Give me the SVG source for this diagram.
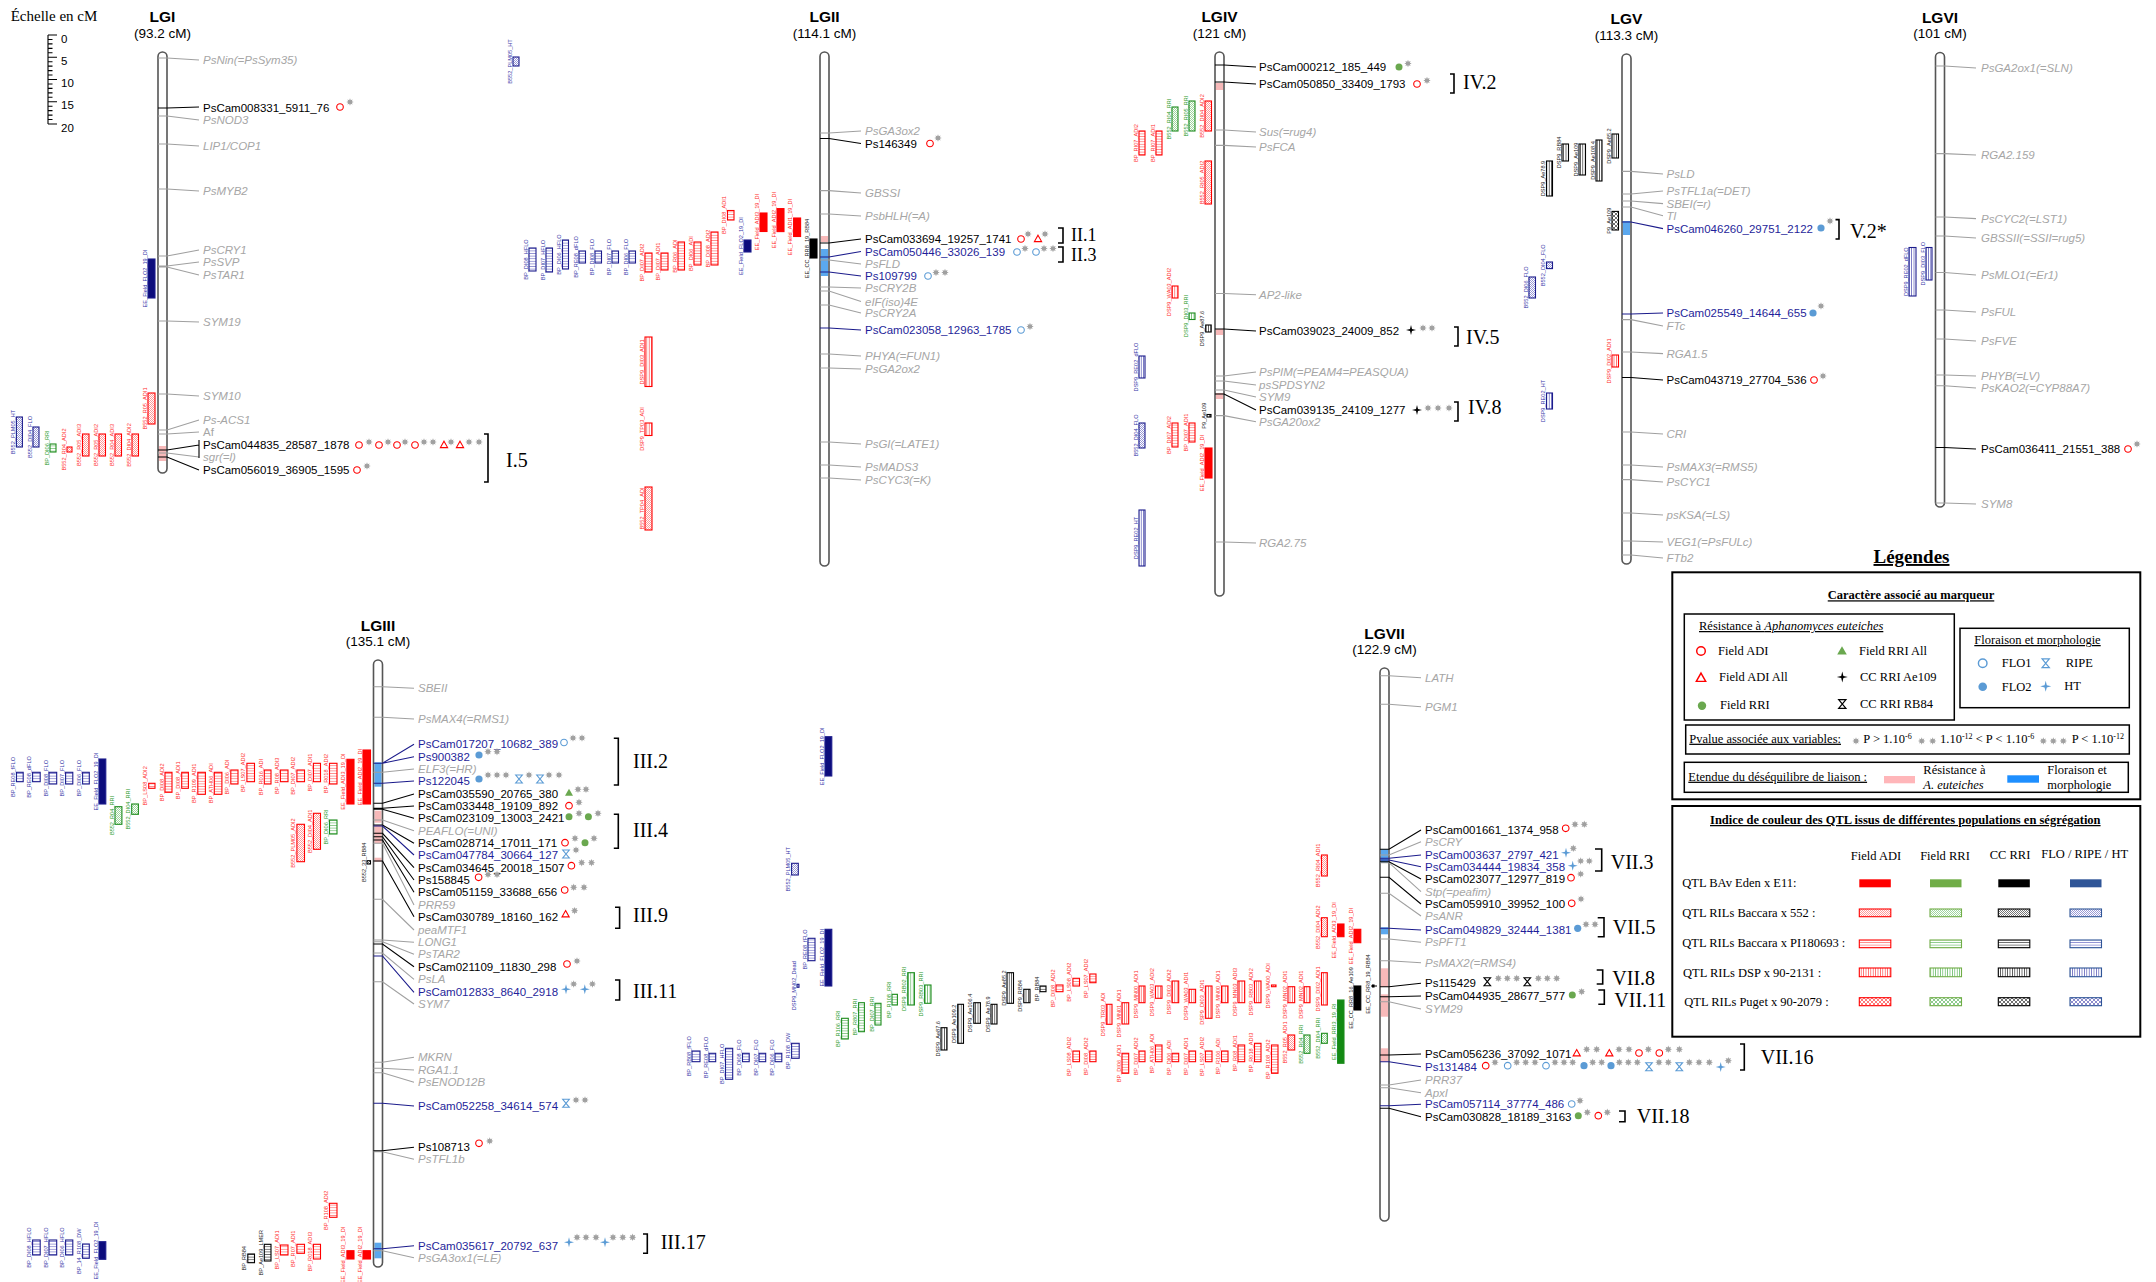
<svg xmlns="http://www.w3.org/2000/svg" width="2156" height="1282" viewBox="0 0 2156 1282">
<defs>
<style>
text{font-family:"Liberation Sans",Arial,sans-serif}
.t{font-size:11.5px}
.k{fill:#000}.b{fill:#1f1f9a}.g{fill:#a6a6a6;font-style:italic}.gn{fill:#a6a6a6}
.q{font-size:5.6px;text-anchor:middle}
.qr{fill:#ff2b2b}.qg{fill:#2a9a2a}.qk{fill:#222}.qb{fill:#3636a8}
.r{stroke:#f00;stroke-width:1.1}.gr{stroke:#1e8c1e;stroke-width:1.1}.kk{stroke:#000;stroke-width:1.1}.nb{stroke:#1c1c8c;stroke-width:1.1}
.Xr{fill:url(#pXr)}.Xg{fill:url(#pXg)}.Xk{fill:url(#pXk)}.Xb{fill:url(#pXb)}
.Hr{fill:url(#pHr)}.Hg{fill:url(#pHg)}.Hk{fill:url(#pHk)}.Hb{fill:url(#pHb)}
.Vr{fill:url(#pVr)}.Vg{fill:url(#pVg)}.Vk{fill:url(#pVk)}.Vb{fill:url(#pVb)}
.Dr{fill:url(#pDr)}.Dg{fill:url(#pDg)}.Dk{fill:url(#pDk)}.Db{fill:url(#pDb)}
.Er{fill:#f00}.Eg{fill:#138a13}.Ek{fill:#000}.Eb{fill:#0c0c7c}
.chr{fill:#fff;stroke:none}
.cho{fill:none;stroke:#555;stroke-width:1.6}
.ml{fill:none;stroke-width:1.1}
.mk{stroke:#000}.mb{stroke:#1c1c8c}.mg{stroke:#a0a0a0}
.ti{font-size:15.5px;font-weight:bold;text-anchor:middle}
.su{font-size:13.5px;text-anchor:middle}
.brk{fill:none;stroke:#000;stroke-width:1.6}
.bl{font-family:"Liberation Serif","Times New Roman",serif;font-size:20px}
.lg{font-family:"Liberation Serif","Times New Roman",serif;font-size:12.5px}
.lb{font-weight:bold}
.u{text-decoration:underline}
.bx{fill:none;stroke:#000;stroke-width:1.5}
.pk{fill:#f7b9b9}.bu{fill:#5ba8ee}
</style>
<pattern id="pXr" width="2" height="2" patternUnits="userSpaceOnUse"><rect width="2" height="2" fill="#fff"/><path d="M0,0h1v1H0zM1,1h1v1H1z" fill="#ff9a9a"/></pattern>
<pattern id="pXg" width="2" height="2" patternUnits="userSpaceOnUse"><rect width="2" height="2" fill="#fff"/><path d="M0,0h1v1H0zM1,1h1v1H1z" fill="#9fd69f"/></pattern>
<pattern id="pXk" width="2" height="2" patternUnits="userSpaceOnUse"><rect width="2" height="2" fill="#fff"/><path d="M0,0h1v1H0zM1,1h1v1H1z" fill="#777"/></pattern>
<pattern id="pXb" width="2" height="2" patternUnits="userSpaceOnUse"><rect width="2" height="2" fill="#fff"/><path d="M0,0h1v1H0zM1,1h1v1H1z" fill="#9a9ad6"/></pattern>
<pattern id="pHr" width="4" height="2.6" patternUnits="userSpaceOnUse"><rect width="4" height="2.6" fill="#fff"/><path d="M0,1.3H4" stroke="#ff7a7a" stroke-width=".8"/></pattern>
<pattern id="pHg" width="4" height="2.6" patternUnits="userSpaceOnUse"><rect width="4" height="2.6" fill="#fff"/><path d="M0,1.3H4" stroke="#7cc47c" stroke-width=".8"/></pattern>
<pattern id="pHk" width="4" height="2.6" patternUnits="userSpaceOnUse"><rect width="4" height="2.6" fill="#fff"/><path d="M0,1.3H4" stroke="#555" stroke-width=".8"/></pattern>
<pattern id="pHb" width="4" height="2.6" patternUnits="userSpaceOnUse"><rect width="4" height="2.6" fill="#fff"/><path d="M0,1.3H4" stroke="#8080cc" stroke-width=".8"/></pattern>
<pattern id="pVr" width="2.4" height="4" patternUnits="userSpaceOnUse"><rect width="2.4" height="4" fill="#fff"/><path d="M1.2,0V4" stroke="#ff5050" stroke-width=".8"/></pattern>
<pattern id="pVg" width="2.4" height="4" patternUnits="userSpaceOnUse"><rect width="2.4" height="4" fill="#fff"/><path d="M1.2,0V4" stroke="#5fb65f" stroke-width=".8"/></pattern>
<pattern id="pVk" width="2.4" height="4" patternUnits="userSpaceOnUse"><rect width="2.4" height="4" fill="#fff"/><path d="M1.2,0V4" stroke="#333" stroke-width=".8"/></pattern>
<pattern id="pVb" width="2.4" height="4" patternUnits="userSpaceOnUse"><rect width="2.4" height="4" fill="#fff"/><path d="M1.2,0V4" stroke="#5a5ab8" stroke-width=".8"/></pattern>
<pattern id="pDr" width="4" height="4" patternUnits="userSpaceOnUse"><rect width="4" height="4" fill="#fff"/><path d="M0,2L2,0L4,2L2,4Z" fill="none" stroke="#ff4040" stroke-width=".7"/></pattern>
<pattern id="pDg" width="4" height="4" patternUnits="userSpaceOnUse"><rect width="4" height="4" fill="#fff"/><path d="M0,2L2,0L4,2L2,4Z" fill="none" stroke="#5fb65f" stroke-width=".7"/></pattern>
<pattern id="pDk" width="4" height="4" patternUnits="userSpaceOnUse"><rect width="4" height="4" fill="#fff"/><path d="M0,2L2,0L4,2L2,4Z" fill="none" stroke="#333" stroke-width=".7"/></pattern>
<pattern id="pDb" width="4" height="4" patternUnits="userSpaceOnUse"><rect width="4" height="4" fill="#fff"/><path d="M0,2L2,0L4,2L2,4Z" fill="none" stroke="#5a5ab8" stroke-width=".7"/></pattern>
<path id="st" d="M3.7,0L1.85,.77L2.62,2.62L.77,1.85L0,3.7L-.77,1.85L-2.62,2.62L-1.85,.77L-3.7,0L-1.85,-.77L-2.62,-2.62L-.77,-1.85L0,-3.7L.77,-1.85L2.62,-2.62L1.85,-.77Z" fill="#a0a0a0"/>
<circle id="oR" r="3.3" fill="none" stroke="#f00" stroke-width="1.1"/>
<path id="tR" d="M0,-3.8L3.6,2.6H-3.6Z" fill="none" stroke="#f00" stroke-width="1.1"/>
<circle id="gF" r="3.5" fill="#6aa84f"/>
<path id="gT" d="M0,-4L4,3H-4Z" fill="#6aa84f"/>
<circle id="oB" r="3.3" fill="none" stroke="#5b9bd5" stroke-width="1.1"/>
<circle id="bF" r="3.6" fill="#5b9bd5"/>
<path id="xB" d="M0,-5L1,-1L5,0L1,1L0,5L-1,1L-5,0L-1,-1Z" fill="#5b9bd5"/>
<path id="xK" d="M0,-5L1,-1L5,0L1,1L0,5L-1,1L-5,0L-1,-1Z" fill="#000"/>
<path id="hB" d="M-3.3,-4H3.3L-3.3,4H3.3Z" fill="none" stroke="#5b9bd5" stroke-width="1.1"/>
<path id="hK" d="M-3.3,-4H3.3L-3.3,4H3.3Z" fill="none" stroke="#000" stroke-width="1.1"/>
</defs>
<rect width="2156" height="1282" fill="#fff"/>

<g id="scale">
<text x="10.7" y="21" style="font-family:'Liberation Serif','Times New Roman',serif;font-size:15px">Échelle en cM</text>
<path d="M48,35V124M48,35H57M48,39.45H52.5M48,43.9H52.5M48,48.35H52.5M48,52.8H52.5M48,57.25H57M48,61.7H52.5M48,66.15H52.5M48,70.6H52.5M48,75.05H52.5M48,79.5H57M48,83.95H52.5M48,88.4H52.5M48,92.85H52.5M48,97.3H52.5M48,101.75H57M48,106.2H52.5M48,110.65H52.5M48,115.1H52.5M48,119.55H52.5M48,124H57" fill="none" stroke="#000" stroke-width="1.1"/>
<g style="font-size:11.5px"><text x="61" y="42.5">0</text><text x="61" y="64.7">5</text><text x="61" y="87">10</text><text x="61" y="109.2">15</text><text x="61" y="131.5">20</text></g>
</g>

<g id="LGI">
<text class="ti" x="162.5" y="21.5">LGI</text><text class="su" x="162.5" y="38">(93.2 cM)</text>
<rect class="chr" x="158" y="52" width="9" height="421" rx="4.5"/>
<rect class="pk" x="159" y="446" width="7" height="15"/>
<rect class="cho" x="158" y="52" width="9" height="421" rx="4.5"/>
</g>
<g id="LGII">
<text class="ti" x="824.5" y="21.5">LGII</text><text class="su" x="824.5" y="38">(114.1 cM)</text>
<rect class="chr" x="820" y="52" width="9" height="514" rx="4.5"/>
<rect class="pk" x="821" y="236" width="7" height="6"/><rect class="bu" x="821" y="249" width="7" height="27"/>
<rect class="cho" x="820" y="52" width="9" height="514" rx="4.5"/>
</g>
<g id="LGIII">
<text class="ti" x="378" y="631">LGIII</text><text class="su" x="378" y="646">(135.1 cM)</text>
<rect class="chr" x="373.5" y="660" width="9" height="607" rx="4.5"/>
<rect class="bu" x="374.5" y="762.3" width="7" height="24.4"/><rect class="pk" x="374.5" y="810.7" width="7" height="12"/><rect class="pk" x="374.5" y="825" width="7" height="18.3"/><rect class="pk" x="374.5" y="857.7" width="7" height="4"/><rect class="bu" x="374.5" y="1242.7" width="7" height="15.6"/>
<rect class="cho" x="373.5" y="660" width="9" height="607" rx="4.5"/>
</g>
<g id="LGIV">
<text class="ti" x="1219.5" y="21.5">LGIV</text><text class="su" x="1219.5" y="38">(121 cM)</text>
<rect class="chr" x="1215" y="52" width="9" height="544" rx="4.5"/>
<rect class="pk" x="1216" y="83" width="7" height="7"/><rect class="pk" x="1216" y="329" width="7" height="6"/><rect class="pk" x="1216" y="393" width="7" height="6"/>
<rect class="cho" x="1215" y="52" width="9" height="544" rx="4.5"/>
</g>
<g id="LGV">
<text class="ti" x="1626.5" y="23.5">LGV</text><text class="su" x="1626.5" y="40">(113.3 cM)</text>
<rect class="chr" x="1622" y="54" width="9" height="510" rx="4.5"/>
<rect class="bu" x="1623" y="221" width="7" height="14"/>
<rect class="cho" x="1622" y="54" width="9" height="510" rx="4.5"/>
</g>
<g id="LGVI">
<text class="ti" x="1940" y="22.5">LGVI</text><text class="su" x="1940" y="38">(101 cM)</text>
<rect class="chr" x="1935.5" y="52.5" width="9" height="454.5" rx="4.5"/>
<rect class="cho" x="1935.5" y="52.5" width="9" height="454.5" rx="4.5"/>
</g>
<g id="LGVII">
<text class="ti" x="1384.5" y="639">LGVII</text><text class="su" x="1384.5" y="654">(122.9 cM)</text>
<rect class="chr" x="1380" y="668" width="9" height="553" rx="4.5"/>
<rect class="bu" x="1381" y="849.3" width="7" height="13.4"/><rect class="bu" x="1381" y="927.3" width="7" height="7"/><rect class="pk" x="1381" y="968.3" width="7" height="18.4"/><rect class="pk" x="1381" y="994.3" width="7" height="22.4"/><rect class="pk" x="1381" y="1048.3" width="7" height="13.4"/>
<rect class="cho" x="1380" y="668" width="9" height="553" rx="4.5"/>
</g>

<g id="connectors">
<path class="ml mg" d="M158,58H167L199,60M158,116H167L199,120M158,144H167L199,146M158,189H167L199,191M158,256H167L199,250M158,266H167L199,262M158,267H167L199,275M158,321H167L199,322M158,394H167L199,396M158,430H167L199,420M158,434H167L199,432M158,453H167L199,457"/>
<path class="ml mk" d="M158,108H167L199,107M158,450H167L199,445M158,457H167L199,470M199,440V458"/>
<path class="ml mg" d="M820,133H829L861,131M820,190.6H829L861,193M820,214H829L861,216M820,260H829L861,264M820,287H829L861,288M820,291H829L861,301.5M820,305H829L861,313M820,354H829L861,356M820,368H829L861,369M820,442H829L861,444M820,465H829L861,467M820,478H829L861,480"/>
<path class="ml mk" d="M820,138.5H829L861,143.5M820,243H829L861,239"/>
<path class="ml mb" d="M820,257H829L861,251.5M820,272H829L861,276M820,328H829L861,330"/>
<path class="ml mg" d="M373.5,686.7H382.5L414,688.3M373.5,717.3H382.5L414,719M373.5,772.3H382.5L414,769M373.5,820H382.5L414,830.7M373.5,843.3H382.5L414,905M373.5,899.3H382.5L414,930M373.5,940H382.5L414,942.3M373.5,941.7H382.5L414,954.3M373.5,953H382.5L414,979.3M373.5,981.7H382.5L414,1004M373.5,1062.3H382.5L414,1057.3M373.5,1068.3H382.5L414,1070M373.5,1072.7H382.5L414,1082.3M373.5,1151.7H382.5L414,1159.3M373.5,1250.7H382.5L414,1257.7"/>
<path class="ml mk" d="M373.5,803.3H382.5L414,794M373.5,808.3H382.5L414,806M373.5,809.3H382.5L414,818.3M373.5,825H382.5L414,843.3M373.5,833.3H382.5L414,867.7M373.5,836.7H382.5L414,880M373.5,840H382.5L414,892.3M373.5,861H382.5L414,916.7M373.5,944H382.5L414,966.7M373.5,1150.7H382.5L414,1147.3"/>
<path class="ml mb" d="M373.5,763.3H382.5L414,744.3M373.5,763.3H382.5L414,756.7M373.5,783.3H382.5L414,781M373.5,826H382.5L414,855M373.5,956H382.5L414,992.3M373.5,1103.3H382.5L414,1106M373.5,1248.7H382.5L414,1245.7"/>
<path class="ml mk" d="M1215,65H1224L1256,67M1215,82H1224L1256,84M1215,329H1224L1256,331M1215,394H1224L1256,410"/>
<path class="ml mg" d="M1215,130H1224L1256,132M1215,145.4H1224L1256,147M1215,293.5H1224L1256,294.7M1215,376H1224L1256,372M1215,381H1224L1256,385M1215,390H1224L1256,397M1215,415.6H1224L1256,421.7M1215,542H1224L1256,543"/>
<path class="ml mg" d="M1622,171.4H1631L1663,174M1622,194H1631L1663,191M1622,201H1631L1663,203.6M1622,207H1631L1663,215.7M1622,319.6H1631L1663,326M1622,352H1631L1663,353.6M1622,432H1631L1663,434M1622,465H1631L1663,467M1622,479.6H1631L1663,482M1622,513H1631L1663,515M1622,541H1631L1663,542M1622,555H1631L1663,558"/>
<path class="ml mb" d="M1622,222H1631L1663,228.6M1622,314H1631L1663,313"/>
<path class="ml mk" d="M1622,377.5H1631L1663,380"/>
<path class="ml mg" d="M1935.5,66H1944.5L1976,68M1935.5,153.6H1944.5L1976,155M1935.5,217H1944.5L1976,218.6M1935.5,236H1944.5L1976,238M1935.5,272.5H1944.5L1976,275M1935.5,310H1944.5L1976,312M1935.5,339H1944.5L1976,341M1935.5,375H1944.5L1976,376M1935.5,385.7H1944.5L1976,388M1935.5,503H1944.5L1976,504"/>
<path class="ml mk" d="M1935.5,447.5H1944.5L1976,449"/>
<path class="ml mg" d="M1380,675.7H1389L1421,677.7M1380,704.3H1389L1421,706.7M1380,855H1389L1421,841.7M1380,862.7H1389L1421,891.7M1380,893.3H1389L1421,916M1380,939H1389L1421,942.3M1380,960.7H1389L1421,962.7M1380,1001.7H1389L1421,1009M1380,1085H1389L1421,1080M1380,1087.7H1389L1421,1092.7"/>
<path class="ml mk" d="M1380,849.3H1389L1421,830M1380,861.7H1389L1421,879M1380,877.3H1389L1421,904M1380,986.7H1389L1421,983.3M1380,996.7H1389L1421,996M1380,1055H1389L1421,1054M1380,1108.3H1389L1421,1116.7M1371,986H1377"/>
<path class="ml mb" d="M1380,858.3H1389L1421,855M1380,860H1389L1421,866.7M1380,928.3H1389L1421,930M1380,1061.7H1389L1421,1066.7M1380,1105.7H1389L1421,1104.3"/>
</g>

<g id="markers-LGI" class="t">
<text class="g" x="203" y="64">PsNin(=PsSym35)</text>
<text class="k" x="203" y="111.5">PsCam008331_5911_76</text>
<text class="g" x="203" y="124">PsNOD3</text>
<text class="g" x="203" y="150">LIP1/COP1</text>
<text class="g" x="203" y="195">PsMYB2</text>
<text class="g" x="203" y="254">PsCRY1</text>
<text class="g" x="203" y="266">PsSVP</text>
<text class="g" x="203" y="279">PsTAR1</text>
<text class="g" x="203" y="326">SYM19</text>
<text class="g" x="203" y="400">SYM10</text>
<text class="g" x="203" y="424">Ps-ACS1</text>
<text class="gn" x="203" y="436">Af</text>
<text class="k" x="203" y="449">PsCam044835_28587_1878</text>
<text class="g" x="203" y="461">sgr(=l)</text>
<text class="k" x="203" y="474">PsCam056019_36905_1595</text>
<use href="#oR" x="340" y="107"/><use href="#st" x="350" y="102"/>
<use href="#oR" x="359" y="445"/><use href="#st" x="369" y="442"/><use href="#oR" x="379" y="445"/><use href="#st" x="388" y="442"/><use href="#oR" x="397" y="445"/><use href="#st" x="405" y="442"/><use href="#oR" x="415" y="445"/><use href="#st" x="424" y="442"/><use href="#st" x="433" y="442"/><use href="#tR" x="444" y="445"/><use href="#st" x="451" y="442"/><use href="#tR" x="460" y="445"/><use href="#st" x="469" y="442"/><use href="#st" x="479" y="442"/>
<use href="#oR" x="357" y="470"/><use href="#st" x="367" y="466"/>
<path class="brk" d="M484,434H488V482H484"/><text class="bl" x="506" y="466.6">I.5</text>
</g>

<g id="markers-LGII" class="t">
<text class="g" x="865" y="135">PsGA3ox2</text>
<text class="k" x="865" y="147.5">Ps146349</text>
<text class="g" x="865" y="197">GBSSI</text>
<text class="g" x="865" y="220">PsbHLH(=A)</text>
<text class="k" x="865" y="243">PsCam033694_19257_1741</text>
<text class="b" x="865" y="255.5">PsCam050446_33026_139</text>
<text class="g" x="865" y="268">PsFLD</text>
<text class="b" x="865" y="280">Ps109799</text>
<text class="g" x="865" y="292">PsCRY2B</text>
<text class="g" x="865" y="305.5">eIF(iso)4E</text>
<text class="g" x="865" y="317">PsCRY2A</text>
<text class="b" x="865" y="334">PsCam023058_12963_1785</text>
<text class="g" x="865" y="360">PHYA(=FUN1)</text>
<text class="g" x="865" y="373">PsGA2ox2</text>
<text class="g" x="865" y="448">PsGI(=LATE1)</text>
<text class="g" x="865" y="471">PsMADS3</text>
<text class="g" x="865" y="484">PsCYC3(=K)</text>
<use href="#oR" x="930" y="143.5"/><use href="#st" x="938" y="138"/>
<use href="#oR" x="1021" y="239"/><use href="#st" x="1028" y="234"/><use href="#tR" x="1038" y="239"/><use href="#st" x="1045" y="234"/>
<use href="#oB" x="1017" y="252"/><use href="#st" x="1025" y="248.5"/><use href="#oB" x="1036" y="252"/><use href="#st" x="1044" y="248.5"/><use href="#st" x="1053" y="248.5"/>
<use href="#oB" x="928" y="276"/><use href="#st" x="936" y="272.5"/><use href="#st" x="945" y="272.5"/>
<use href="#oB" x="1021" y="330"/><use href="#st" x="1030" y="326.5"/>
<path class="brk" d="M1058,228H1063V243H1058M1058,247H1063V262H1058"/>
<text class="bl" x="1071" y="240.5" style="font-size:18px">II.1</text><text class="bl" x="1071" y="261" style="font-size:18px">II.3</text>
</g>

<g id="markers-LGIII" class="t">
<text class="g" x="418" y="692.3">SBEII</text>
<text class="g" x="418" y="723">PsMAX4(=RMS1)</text>
<text class="b" x="418" y="748.3">PsCam017207_10682_389</text>
<text class="b" x="418" y="760.7">Ps900382</text>
<text class="g" x="418" y="773">ELF3(=HR)</text>
<text class="b" x="418" y="785">Ps122045</text>
<text class="k" x="418" y="798">PsCam035590_20765_380</text>
<text class="k" x="418" y="810">PsCam033448_19109_892</text>
<text class="k" x="418" y="822.3">PsCam023109_13003_2421</text>
<text class="g" x="418" y="834.7">PEAFLO(=UNI)</text>
<text class="k" x="418" y="847.3">PsCam028714_17011_171</text>
<text class="b" x="418" y="859">PsCam047784_30664_127</text>
<text class="k" x="418" y="871.7">PsCam034645_20018_1507</text>
<text class="k" x="418" y="884">Ps158845</text>
<text class="k" x="418" y="896.3">PsCam051159_33688_656</text>
<text class="g" x="418" y="909">PRR59</text>
<text class="k" x="418" y="920.7">PsCam030789_18160_162</text>
<text class="g" x="418" y="934">peaMTF1</text>
<text class="g" x="418" y="946.3">LONG1</text>
<text class="g" x="418" y="958.3">PsTAR2</text>
<text class="k" x="418" y="970.7">PsCam021109_11830_298</text>
<text class="g" x="418" y="983.3">PsLA</text>
<text class="b" x="418" y="996.3">PsCam012833_8640_2918</text>
<text class="g" x="418" y="1008">SYM7</text>
<text class="g" x="418" y="1061.3">MKRN</text>
<text class="g" x="418" y="1074">RGA1.1</text>
<text class="g" x="418" y="1086.3">PsENOD12B</text>
<text class="b" x="418" y="1110">PsCam052258_34614_574</text>
<text class="k" x="418" y="1151.3">Ps108713</text>
<text class="g" x="418" y="1163.3">PsTFL1b</text>
<text class="b" x="418" y="1249.7">PsCam035617_20792_637</text>
<text class="g" x="418" y="1261.7">PsGA3ox1(=LE)</text>
<use href="#oB" x="564" y="742.5"/><use href="#st" x="573" y="738"/><use href="#st" x="582" y="738"/>
<use href="#bF" x="479" y="755"/><use href="#st" x="488" y="751.7"/><use href="#st" x="497" y="751.7"/>
<use href="#bF" x="479" y="779"/><use href="#st" x="488" y="775"/><use href="#st" x="497" y="775"/><use href="#st" x="506" y="775"/><use href="#hB" x="519" y="779"/><use href="#st" x="529" y="775"/><use href="#hB" x="540" y="779"/><use href="#st" x="549" y="775"/><use href="#st" x="559" y="775"/>
<use href="#gT" x="569" y="792.7"/><use href="#st" x="578" y="789.3"/><use href="#st" x="586" y="789.3"/>
<use href="#oR" x="569" y="805.7"/><use href="#st" x="579" y="802.3"/>
<use href="#gF" x="569" y="816.7"/><use href="#st" x="579" y="813.3"/><use href="#gF" x="588.4" y="816.7"/><use href="#st" x="598" y="813.3"/>
<use href="#oR" x="565" y="842.7"/><use href="#st" x="575" y="838.3"/><use href="#gF" x="585" y="842.7"/><use href="#st" x="594" y="838.3"/>
<use href="#hB" x="566" y="854"/><use href="#st" x="576" y="850"/>
<use href="#oR" x="571.4" y="865.7"/><use href="#st" x="581.7" y="862.7"/><use href="#st" x="591.5" y="862.7"/>
<use href="#oR" x="478.6" y="877.3"/><use href="#st" x="488" y="874.5"/><use href="#st" x="497" y="874.5"/>
<use href="#oR" x="564.7" y="890"/><use href="#st" x="573.7" y="887.3"/><use href="#st" x="584" y="887.3"/>
<use href="#tR" x="565.6" y="914.3"/><use href="#st" x="574.6" y="910.7"/>
<use href="#oR" x="567" y="964"/><use href="#st" x="577" y="961"/>
<use href="#xB" x="566" y="989.3"/><use href="#st" x="573.7" y="984"/><use href="#xB" x="584.8" y="989.3"/><use href="#st" x="592.4" y="984"/>
<use href="#hB" x="566" y="1103.3"/><use href="#st" x="576" y="1100"/><use href="#st" x="585" y="1100"/>
<use href="#oR" x="479" y="1143.3"/><use href="#st" x="489.7" y="1141"/>
<use href="#xB" x="569" y="1242.3"/><use href="#st" x="577" y="1237.3"/><use href="#st" x="586" y="1237.3"/><use href="#st" x="596" y="1237.3"/><use href="#xB" x="605" y="1242.3"/><use href="#st" x="613" y="1237.3"/><use href="#st" x="622.8" y="1237.3"/><use href="#st" x="632.6" y="1237.3"/>
<path class="brk" d="M613.8,738.3H618.3V785H613.8M613.8,814.3H618.3V848.3H613.8M615,907.3H619.6V928.3H615M615,980H619.6V1000H615M643,1234H647.3V1253.3H643"/>
<text class="bl" x="633" y="767.6">III.2</text><text class="bl" x="633" y="836.6">III.4</text><text class="bl" x="633" y="921.6">III.9</text><text class="bl" x="633" y="998.3">III.11</text><text class="bl" x="660.7" y="1249.3">III.17</text>
</g>

<g id="markers-LGIV" class="t">
<text class="k" x="1259" y="71">PsCam000212_185_449</text>
<text class="k" x="1259" y="88">PsCam050850_33409_1793</text>
<text class="g" x="1259" y="136">Sus(=rug4)</text>
<text class="g" x="1259" y="151">PsFCA</text>
<text class="g" x="1259" y="298.7">AP2-like</text>
<text class="k" x="1259" y="335">PsCam039023_24009_852</text>
<text class="g" x="1259" y="376">PsPIM(=PEAM4=PEASQUA)</text>
<text class="g" x="1259" y="389">psSPDSYN2</text>
<text class="g" x="1259" y="401">SYM9</text>
<text class="k" x="1259" y="414">PsCam039135_24109_1277</text>
<text class="g" x="1259" y="425.7">PsGA20ox2</text>
<text class="g" x="1259" y="547">RGA2.75</text>
<use href="#gF" x="1399" y="67"/><use href="#st" x="1408" y="63.5"/>
<use href="#oR" x="1417" y="84"/><use href="#st" x="1427" y="80.5"/>
<use href="#xK" x="1411" y="330"/><use href="#st" x="1423" y="328"/><use href="#st" x="1432" y="328"/>
<use href="#xK" x="1417" y="410"/><use href="#st" x="1428" y="408"/><use href="#st" x="1438" y="408"/><use href="#st" x="1449" y="408"/>
<path class="brk" d="M1450,74H1454V93H1450M1454,327H1458V346H1454M1454,402H1458V421H1454"/>
<text class="bl" x="1463" y="88.6">IV.2</text><text class="bl" x="1466" y="343.6">IV.5</text><text class="bl" x="1468" y="414">IV.8</text>
</g>

<g id="markers-LGV" class="t">
<text class="g" x="1666.5" y="178">PsLD</text>
<text class="g" x="1666.5" y="195">PsTFL1a(=DET)</text>
<text class="g" x="1666.5" y="207.6">SBEI(=r)</text>
<text class="g" x="1666.5" y="219.7">Tl</text>
<text class="b" x="1666.5" y="232.6">PsCam046260_29751_2122</text>
<text class="b" x="1666.5" y="317">PsCam025549_14644_655</text>
<text class="g" x="1666.5" y="330">FTc</text>
<text class="g" x="1666.5" y="357.6">RGA1.5</text>
<text class="k" x="1666.5" y="384">PsCam043719_27704_536</text>
<text class="g" x="1666.5" y="438">CRI</text>
<text class="g" x="1666.5" y="471">PsMAX3(=RMS5)</text>
<text class="g" x="1666.5" y="486">PsCYC1</text>
<text class="g" x="1666.5" y="519">psKSA(=LS)</text>
<text class="g" x="1666.5" y="546">VEG1(=PsFULc)</text>
<text class="g" x="1666.5" y="562">FTb2</text>
<use href="#bF" x="1821" y="228"/><use href="#st" x="1830" y="221"/>
<use href="#bF" x="1813" y="313"/><use href="#st" x="1821" y="306"/>
<use href="#oR" x="1814" y="380"/><use href="#st" x="1823" y="376"/>
<path class="brk" d="M1835.5,219.6H1839V239H1835.5"/><text class="bl" x="1850" y="237.6">V.2*</text>
</g>

<g id="markers-LGVI" class="t">
<text class="g" x="1981" y="72">PsGA2ox1(=SLN)</text>
<text class="g" x="1981" y="159">RGA2.159</text>
<text class="g" x="1981" y="222.6">PsCYC2(=LST1)</text>
<text class="g" x="1981" y="242">GBSSII(=SSII=rug5)</text>
<text class="g" x="1981" y="279">PsMLO1(=Er1)</text>
<text class="g" x="1981" y="316">PsFUL</text>
<text class="g" x="1981" y="345">PsFVE</text>
<text class="g" x="1981" y="380">PHYB(=LV)</text>
<text class="g" x="1981" y="392">PsKAO2(=CYP88A7)</text>
<text class="k" x="1981" y="453">PsCam036411_21551_388</text>
<text class="g" x="1981" y="508">SYM8</text>
<use href="#oR" x="2128" y="449"/><use href="#st" x="2137" y="444"/>
</g>

<g id="markers-LGVII" class="t">
<text class="g" x="1425" y="681.7">LATH</text>
<text class="g" x="1425" y="710.7">PGM1</text>
<text class="k" x="1425" y="834">PsCam001661_1374_958</text>
<text class="g" x="1425" y="845.7">PsCRY</text>
<text class="b" x="1425" y="859">PsCam003637_2797_421</text>
<text class="b" x="1425" y="870.7">PsCam034444_19834_358</text>
<text class="k" x="1425" y="883">PsCam023077_12977_819</text>
<text class="g" x="1425" y="895.7">Stp(=peafim)</text>
<text class="k" x="1425" y="908">PsCam059910_39952_100</text>
<text class="g" x="1425" y="920">PsANR</text>
<text class="b" x="1425" y="934">PsCam049829_32444_1381</text>
<text class="g" x="1425" y="946.3">PsPFT1</text>
<text class="g" x="1425" y="966.7">PsMAX2(=RMS4)</text>
<text class="k" x="1425" y="987.3">Ps115429</text>
<text class="k" x="1425" y="1000">PsCam044935_28677_577</text>
<text class="g" x="1425" y="1013">SYM29</text>
<text class="k" x="1425" y="1058">PsCam056236_37092_1071</text>
<text class="b" x="1425" y="1070.7">Ps131484</text>
<text class="g" x="1425" y="1084">PRR37</text>
<text class="g" x="1425" y="1096.7">ApxI</text>
<text class="b" x="1425" y="1108.3">PsCam057114_37774_486</text>
<text class="k" x="1425" y="1120.7">PsCam030828_18189_3163</text>
<use href="#oR" x="1565.7" y="828.3"/><use href="#st" x="1575" y="824.3"/><use href="#st" x="1584.3" y="824.3"/>
<use href="#xB" x="1566" y="852.7"/><use href="#st" x="1573.3" y="848.3"/>
<use href="#xB" x="1572.7" y="865.7"/><use href="#st" x="1580.7" y="861"/><use href="#st" x="1589.3" y="861"/>
<use href="#oR" x="1571" y="877.7"/><use href="#st" x="1580.7" y="874"/>
<use href="#oR" x="1571.7" y="903.3"/><use href="#st" x="1581" y="899"/>
<use href="#bF" x="1577.7" y="928.3"/><use href="#st" x="1586" y="924.3"/><use href="#st" x="1595" y="924.3"/>
<use href="#hK" x="1487.3" y="981.7"/><use href="#st" x="1498.3" y="978.3"/><use href="#st" x="1507.3" y="978.3"/><use href="#st" x="1516.7" y="978.3"/><use href="#hK" x="1527.3" y="981.7"/><use href="#st" x="1538.3" y="978.3"/><use href="#st" x="1547.3" y="978.3"/><use href="#st" x="1556.7" y="978.3"/>
<use href="#gF" x="1572.3" y="995"/><use href="#st" x="1581.7" y="991.7"/>
<use href="#tR" x="1576.7" y="1053.3"/><use href="#st" x="1586.7" y="1049.3"/><use href="#st" x="1596.7" y="1049.3"/><use href="#tR" x="1609.3" y="1053.3"/><use href="#st" x="1619" y="1049.3"/><use href="#st" x="1629" y="1049.3"/><use href="#oR" x="1639" y="1053"/><use href="#st" x="1648.3" y="1049.3"/><use href="#oR" x="1659.3" y="1053"/><use href="#st" x="1668.3" y="1049.3"/><use href="#st" x="1679.3" y="1049.3"/>
<use href="#oR" x="1485.7" y="1065.7"/><use href="#st" x="1495" y="1062.3"/><use href="#oB" x="1507.7" y="1065.7"/><use href="#st" x="1516.7" y="1062.3"/><use href="#st" x="1525.7" y="1062.3"/><use href="#st" x="1535" y="1062.3"/><use href="#oB" x="1546" y="1065.7"/><use href="#st" x="1555" y="1062.3"/><use href="#st" x="1564" y="1062.3"/><use href="#st" x="1572.7" y="1062.3"/><use href="#bF" x="1584" y="1065.7"/><use href="#st" x="1592.7" y="1062.3"/><use href="#st" x="1601.7" y="1062.3"/><use href="#bF" x="1611" y="1065.7"/><use href="#st" x="1619.3" y="1062.3"/><use href="#st" x="1628.3" y="1062.3"/><use href="#st" x="1637.3" y="1062.3"/><use href="#hB" x="1649" y="1066.7"/><use href="#st" x="1659" y="1062.3"/><use href="#st" x="1668.3" y="1062.3"/><use href="#hB" x="1679.3" y="1066.7"/><use href="#st" x="1689.3" y="1062.3"/><use href="#st" x="1699" y="1062.3"/><use href="#st" x="1709.3" y="1062.3"/><use href="#xB" x="1720.7" y="1067"/><use href="#st" x="1728.3" y="1060.7"/>
<use href="#oB" x="1571.7" y="1104"/><use href="#st" x="1580" y="1100.7"/>
<use href="#gF" x="1578.3" y="1115.7"/><use href="#st" x="1587.3" y="1112.3"/><use href="#oR" x="1598.3" y="1115.7"/><use href="#st" x="1607.3" y="1112.3"/>
<path class="brk" d="M1595,849H1601.7V871H1595M1597.7,917.7H1604V936.7H1597.7M1596.7,970H1602.7V984H1596.7M1598.3,990H1604.3V1004.3H1598.3M1740,1044H1744.3V1070H1740M1619,1111H1625V1121.7H1619"/>
<text class="bl" x="1610.7" y="868.9">VII.3</text><text class="bl" x="1612.7" y="933.9">VII.5</text><text class="bl" x="1612.3" y="984.9">VII.8</text><text class="bl" x="1614.3" y="1006.6">VII.11</text><text class="bl" x="1760.7" y="1063.9">VII.16</text><text class="bl" x="1636.7" y="1122.6">VII.18</text>
</g>

<g id="qtl-LGI">
<rect class="r Xr" x="148" y="393" width="7" height="31"/><text class="q qr" transform="matrix(0,-1,1,0,146.5,408.5)">B552_R05_ADI1</text>
<rect class="nb Eb" x="148" y="259" width="7" height="39"/><text class="q qb" transform="matrix(0,-1,1,0,146.5,278.5)">EE_Field_FLO2_19_DI</text>
<rect class="nb Xb" x="16.4" y="417" width="6" height="30"/><text class="q qb" transform="matrix(0,-1,1,0,14.9,432)">B552_PLM05_HT</text>
<rect class="nb Xb" x="33" y="427" width="6" height="20"/><text class="q qb" transform="matrix(0,-1,1,0,31.5,437)">B552_DI04_FLO</text>
<rect class="gr Hg" x="50" y="444" width="6" height="8"/><text class="q qg" transform="matrix(0,-1,1,0,48.5,448)">BP_DI06_RRI</text>
<rect class="r Xr" x="67" y="447" width="5" height="5"/><text class="q qr" transform="matrix(0,-1,1,0,65.5,449.5)">B552_R04_ADI2</text>
<rect class="r Xr" x="82.5" y="434" width="6.5" height="22"/><text class="q qr" transform="matrix(0,-1,1,0,81,445)">B552_R05_ADI3</text>
<rect class="r Xr" x="99" y="434" width="6.5" height="22"/><text class="q qr" transform="matrix(0,-1,1,0,97.5,445)">B552_R05_ADI2</text>
<rect class="r Xr" x="115" y="434" width="6.5" height="22"/><text class="q qr" transform="matrix(0,-1,1,0,113.5,445)">B552_R04_ADI3</text>
<rect class="r Xr" x="132" y="434" width="6.5" height="22"/><text class="q qr" transform="matrix(0,-1,1,0,130.5,445)">B552_DI04_ADI2</text>
</g>

<g id="qtl-LGII">
<rect class="nb Xb" x="513" y="57" width="6" height="9"/><text class="q qb" transform="matrix(0,-1,1,0,511.5,61.5)">B552_PLM05_HT</text>
<rect class="nb Hb" x="529" y="248" width="7" height="23"/><text class="q qb" transform="matrix(0,-1,1,0,527.5,259.5)">BP_DI08_HFLO</text>
<rect class="nb Hb" x="546" y="248" width="6.5" height="24"/><text class="q qb" transform="matrix(0,-1,1,0,544.5,260)">BP_DI07_HFLO</text>
<rect class="nb Hb" x="562.5" y="240" width="6" height="29"/><text class="q qb" transform="matrix(0,-1,1,0,561,254.5)">BP_DI06_HFLO</text>
<rect class="nb Hb" x="579" y="251" width="6.5" height="12"/><text class="q qb" transform="matrix(0,-1,1,0,577.5,257)">BP_RE08_dFLO</text>
<rect class="nb Hb" x="595" y="251" width="6.5" height="12"/><text class="q qb" transform="matrix(0,-1,1,0,593.5,257)">BP_DI08_FLO</text>
<rect class="nb Hb" x="612" y="251" width="6.5" height="12"/><text class="q qb" transform="matrix(0,-1,1,0,610.5,257)">BP_DI07_FLO</text>
<rect class="nb Hb" x="629" y="251" width="6.5" height="12"/><text class="q qb" transform="matrix(0,-1,1,0,627.5,257)">BP_DI06_FLO</text>
<rect class="r Hr" x="645" y="253" width="7" height="19"/><text class="q qr" transform="matrix(0,-1,1,0,643.5,262.5)">BP_DI07_ADI2</text>
<rect class="r Hr" x="661" y="253" width="7" height="17"/><text class="q qr" transform="matrix(0,-1,1,0,659.5,261.5)">BP_DI07_ADI1</text>
<rect class="r Hr" x="678" y="242" width="6.5" height="28"/><text class="q qr" transform="matrix(0,-1,1,0,676.5,256)">BP_R06_ADI</text>
<rect class="r Hr" x="694" y="242" width="7" height="23"/><text class="q qr" transform="matrix(0,-1,1,0,692.5,253.5)">BP_DI06_ADI</text>
<rect class="r Hr" x="711" y="232" width="7" height="33"/><text class="q qr" transform="matrix(0,-1,1,0,709.5,248.5)">BP_DI08_ADI2</text>
<rect class="r Hr" x="727.5" y="210.5" width="6.5" height="9.5"/><text class="q qr" transform="matrix(0,-1,1,0,726,215)">BP_DI08_ADI1</text>
<rect class="nb Eb" x="744" y="240" width="7" height="12"/><text class="q qb" transform="matrix(0,-1,1,0,742.5,246)">EE_Field_FLO2_19_DI</text>
<rect class="r Er" x="760" y="213" width="7" height="18.5"/><text class="q qr" transform="matrix(0,-1,1,0,758.5,222)">EE_Field_ADI3_19_DI</text>
<rect class="r Er" x="777" y="208.6" width="7" height="23"/><text class="q qr" transform="matrix(0,-1,1,0,775.5,220)">EE_Field_ADI2_19_DI</text>
<rect class="r Er" x="793.6" y="218" width="7" height="18.5"/><text class="q qr" transform="matrix(0,-1,1,0,792,227)">EE_Field_ADI1_19_DI</text>
<rect class="kk Ek" x="810" y="239" width="7" height="19"/><text class="q qk" transform="matrix(0,-1,1,0,808.5,248.5)">EE_CC_RR8_19_RB84</text>
<rect class="r Vr" x="645" y="337" width="7" height="49.5"/><text class="q qr" transform="matrix(0,-1,1,0,643.5,362)">DSP9_DI03_ADI1</text>
<rect class="r Vr" x="645" y="423" width="7" height="12.5"/><text class="q qr" transform="matrix(0,-1,1,0,643.5,429)">DSP9_TP03_ADI</text>
<rect class="r Xr" x="645" y="487" width="7" height="43"/><text class="q qr" transform="matrix(0,-1,1,0,643.5,508.5)">B552_TP04_ADI</text>
</g>

<g id="qtl-LGIV">
<rect class="r Hr" x="1139" y="131" width="6" height="24"/><text class="q qr" transform="matrix(0,-1,1,0,1137.5,143)">BP_RI07_ADI2</text>
<rect class="r Hr" x="1156" y="131" width="6" height="24"/><text class="q qr" transform="matrix(0,-1,1,0,1154.5,143)">BP_RI07_ADI1</text>
<rect class="gr Xg" x="1172" y="107" width="6" height="24"/><text class="q qg" transform="matrix(0,-1,1,0,1170.5,119)">B552_RI04_RRI</text>
<rect class="gr Xg" x="1189" y="101" width="6" height="30"/><text class="q qg" transform="matrix(0,-1,1,0,1187.5,116)">B552_RI05_RRI</text>
<rect class="r Xr" x="1205" y="101" width="6.5" height="30"/><text class="q qr" transform="matrix(0,-1,1,0,1203.5,116)">B552_DI04_ADI2</text>
<rect class="r Xr" x="1205" y="161" width="6.5" height="43"/><text class="q qr" transform="matrix(0,-1,1,0,1203.5,182.5)">B552_RI05_ADI2</text>
<rect class="r Vr" x="1172" y="286" width="6" height="12"/><text class="q qr" transform="matrix(0,-1,1,0,1170.5,292)">DSP9_WA03_ADI2</text>
<rect class="gr Vg" x="1189" y="313" width="6" height="6.5"/><text class="q qg" transform="matrix(0,-1,1,0,1187.5,316)">DSP9_DI03_RRI</text>
<rect class="kk Vk" x="1205.7" y="325" width="5.5" height="7"/><text class="q qk" transform="matrix(0,-1,1,0,1204.2,328.5)">DSP9_Ae87.6</text>
<rect class="nb Vb" x="1139" y="356" width="6" height="22"/><text class="q qb" transform="matrix(0,-1,1,0,1137.5,367)">DSP9_RE02_dFLO</text>
<rect class="nb Xb" x="1139" y="423" width="6" height="25"/><text class="q qb" transform="matrix(0,-1,1,0,1137.5,435.5)">B552_DI04_FLO</text>
<rect class="r Hr" x="1172" y="423" width="6" height="24"/><text class="q qr" transform="matrix(0,-1,1,0,1170.5,435)">BP_DI07_ADI2</text>
<rect class="r Hr" x="1189" y="423" width="6" height="19"/><text class="q qr" transform="matrix(0,-1,1,0,1187.5,432.5)">BP_DI07_ADI1</text>
<rect class="kk Dk" x="1207" y="414.5" width="4" height="2.5"/><text class="q qk" transform="matrix(0,-1,1,0,1205.5,415.7)">P9_Ae109</text>
<rect class="r Er" x="1205" y="448" width="7" height="30"/><text class="q qr" transform="matrix(0,-1,1,0,1203.5,463)">EE_Field_ADI2_19_DI</text>
<rect class="nb Vb" x="1139" y="510" width="6" height="56"/><text class="q qb" transform="matrix(0,-1,1,0,1137.5,538)">DSP9_RE02_HT</text>
</g>

<g id="qtl-LGV">
<rect class="kk Vk" x="1546.5" y="161" width="6" height="35"/><text class="q qk" transform="matrix(0,-1,1,0,1545,178.5)">DSP9_Ae78.9</text>
<rect class="kk Vk" x="1562" y="144" width="6.5" height="17"/><text class="q qk" transform="matrix(0,-1,1,0,1560.5,152.5)">DSP9_RB84</text>
<rect class="kk Vk" x="1579" y="144" width="6.5" height="31"/><text class="q qk" transform="matrix(0,-1,1,0,1577.5,159.5)">DSP9_Ae109</text>
<rect class="kk Vk" x="1596" y="140" width="6" height="41"/><text class="q qk" transform="matrix(0,-1,1,0,1594.5,160.5)">DSP9_Ae108.4</text>
<rect class="kk Vk" x="1612" y="134" width="6.5" height="24"/><text class="q qk" transform="matrix(0,-1,1,0,1610.5,146)">DSP9_Ae85.2</text>
<rect class="kk Dk" x="1612" y="211.4" width="6.5" height="18.6"/><text class="q qk" transform="matrix(0,-1,1,0,1610.5,220.7)">P9_Ae109</text>
<rect class="nb Xb" x="1529" y="277" width="6.5" height="21"/><text class="q qb" transform="matrix(0,-1,1,0,1527.5,287.5)">B552_DI06_FLO</text>
<rect class="nb Xb" x="1546.5" y="262" width="6" height="6.6"/><text class="q qb" transform="matrix(0,-1,1,0,1545,265.3)">B552_DI04_FLO</text>
<rect class="r Vr" x="1612" y="355" width="6.5" height="12"/><text class="q qr" transform="matrix(0,-1,1,0,1610.5,361)">DSP9_DI02_ADI1</text>
<rect class="nb Vb" x="1546.5" y="393" width="6" height="16"/><text class="q qb" transform="matrix(0,-1,1,0,1545,401)">DSP9_RE02_HT</text>
</g>

<g id="qtl-LGVI">
<rect class="nb Vb" x="1909" y="247.5" width="7" height="48.5"/><text class="q qb" transform="matrix(0,-1,1,0,1907.5,271.7)">DSP9_RE02_dFLO</text>
<rect class="nb Vb" x="1926" y="247.5" width="6" height="32.5"/><text class="q qb" transform="matrix(0,-1,1,0,1924.5,263.7)">DSP9_DI03_FLO</text>
</g>

<g id="qtl-LGIII">
<rect class="nb Hb" x="16.5" y="772.3" width="6.7" height="9.4"/><text class="q qb" transform="matrix(0,-1,1,0,15,777)">BP_RE08_fFLO</text>
<rect class="nb Hb" x="32.6" y="772.3" width="7.6" height="9.4"/><text class="q qb" transform="matrix(0,-1,1,0,31.1,777)">BP_RE08_dFLO</text>
<rect class="nb Hb" x="49" y="772.3" width="7.7" height="11.7"/><text class="q qb" transform="matrix(0,-1,1,0,47.5,778.2)">BP_DI08_FLO</text>
<rect class="nb Hb" x="65.6" y="772.3" width="7.2" height="11.7"/><text class="q qb" transform="matrix(0,-1,1,0,64.1,778.2)">BP_DI07_FLO</text>
<rect class="nb Hb" x="82.6" y="772.3" width="6.7" height="11.7"/><text class="q qb" transform="matrix(0,-1,1,0,81.1,778.2)">BP_DI06_FLO</text>
<rect class="nb Eb" x="99" y="759" width="6.8" height="45"/><text class="q qb" transform="matrix(0,-1,1,0,97.5,781.5)">EE_Field_FLO2_19_DI</text>
<rect class="gr Xg" x="115" y="806.7" width="6.9" height="17.6"/><text class="q qg" transform="matrix(0,-1,1,0,113.5,815.5)">B552_R04_RRI</text>
<rect class="gr Xg" x="131.7" y="804" width="6.7" height="10.3"/><text class="q qg" transform="matrix(0,-1,1,0,130.2,809.2)">B552_DI04_RRI</text>
<rect class="r Hr" x="148.7" y="783.3" width="6.3" height="5"/><text class="q qr" transform="matrix(0,-1,1,0,147.2,785.8)">BP_LS08_ADI2</text>
<rect class="r Hr" x="165" y="772.3" width="7" height="20"/><text class="q qr" transform="matrix(0,-1,1,0,163.5,782.3)">BP_DI08_ADI2</text>
<rect class="r Hr" x="181.7" y="772.3" width="6.7" height="16"/><text class="q qr" transform="matrix(0,-1,1,0,180.2,780.3)">BP_DI08_ADI1</text>
<rect class="r Hr" x="197.8" y="772.3" width="7.6" height="22"/><text class="q qr" transform="matrix(0,-1,1,0,196.3,783.3)">BP_R109_ADI1</text>
<rect class="r Hr" x="214.3" y="772.3" width="7.6" height="22"/><text class="q qr" transform="matrix(0,-1,1,0,212.8,783.3)">BP_ATH06_ADI</text>
<rect class="r Hr" x="230.8" y="770" width="7.2" height="14"/><text class="q qr" transform="matrix(0,-1,1,0,229.3,777)">BP_DI06_ADI</text>
<rect class="r Hr" x="246.9" y="763.3" width="7.6" height="18.4"/><text class="q qr" transform="matrix(0,-1,1,0,245.4,772.5)">BP_LS07_ADI2</text>
<rect class="r Hr" x="264.3" y="770" width="6.7" height="14"/><text class="q qr" transform="matrix(0,-1,1,0,262.8,777)">BP_R016_ADI</text>
<rect class="r Hr" x="280.4" y="770" width="7.6" height="11.7"/><text class="q qr" transform="matrix(0,-1,1,0,278.9,775.8)">BP_R08_ADI3</text>
<rect class="r Hr" x="296.9" y="770" width="7.6" height="11.7"/><text class="q qr" transform="matrix(0,-1,1,0,295.4,775.8)">BP_DI07_ADI2</text>
<rect class="r Hr" x="313.4" y="763.3" width="7.1" height="18.4"/><text class="q qr" transform="matrix(0,-1,1,0,311.9,772.5)">BP_DI07_ADI1</text>
<rect class="r Hr" x="329.5" y="763.3" width="7.5" height="20.7"/><text class="q qr" transform="matrix(0,-1,1,0,328,773.6)">BP_R018_ADI2</text>
<rect class="r Er" x="346.9" y="759.3" width="7.1" height="44.7"/><text class="q qr" transform="matrix(0,-1,1,0,345.4,781.6)">EE_Field_ADI3_19_DI</text>
<rect class="r Er" x="363" y="750" width="7.5" height="54"/><text class="q qr" transform="matrix(0,-1,1,0,361.5,777)">EE_Field_ADI2_19_DI</text>
<rect class="r Xr" x="296.9" y="824.3" width="7.6" height="37.4"/><text class="q qr" transform="matrix(0,-1,1,0,295.4,843)">B552_PLM05_ADI2</text>
<rect class="r Xr" x="313.4" y="813.3" width="7.1" height="36"/><text class="q qr" transform="matrix(0,-1,1,0,311.9,831.3)">B552_DI04_ADI1</text>
<rect class="gr Hg" x="329.5" y="820" width="7.5" height="14"/><text class="q qg" transform="matrix(0,-1,1,0,328,827)">BP_DI06_RRI</text>
<rect class="kk Xk" x="367" y="860.7" width="3.5" height="3.3"/><text class="q qk" transform="matrix(0,-1,1,0,365.5,862.3)">B552_33_RB84</text>
<rect class="nb Hb" x="32.6" y="1240" width="7.6" height="15"/><text class="q qb" transform="matrix(0,-1,1,0,31.1,1247.5)">BP_DI08_HFLO</text>
<rect class="nb Hb" x="49" y="1240" width="7.7" height="15"/><text class="q qb" transform="matrix(0,-1,1,0,47.5,1247.5)">BP_DI07_HFLO</text>
<rect class="nb Hb" x="65.6" y="1240" width="7.2" height="15"/><text class="q qb" transform="matrix(0,-1,1,0,64.1,1247.5)">BP_DI06_HFLO</text>
<rect class="nb Hb" x="82.6" y="1244" width="6.7" height="14.3"/><text class="q qb" transform="matrix(0,-1,1,0,81.1,1251.2)">BP_14_R108_DW</text>
<rect class="nb Eb" x="99" y="1241.7" width="6.8" height="17.6"/><text class="q qb" transform="matrix(0,-1,1,0,97.5,1250.5)">EE_Field_FLO2_19_DI</text>
<rect class="kk Hk" x="247.8" y="1254" width="6.7" height="8.7"/><text class="q qk" transform="matrix(0,-1,1,0,246.3,1258.3)">BP_RB84</text>
<rect class="kk Hk" x="264.3" y="1244.3" width="6.7" height="16.7"/><text class="q qk" transform="matrix(0,-1,1,0,262.8,1252.7)">BP_Ae109_LMER</text>
<rect class="r Hr" x="280.4" y="1245" width="7.6" height="10"/><text class="q qr" transform="matrix(0,-1,1,0,278.9,1250)">BP_LS07_ADI1</text>
<rect class="r Hr" x="296.9" y="1244.3" width="7.6" height="9"/><text class="q qr" transform="matrix(0,-1,1,0,295.4,1248.8)">BP_R07_ADI1</text>
<rect class="r Hr" x="313.4" y="1244.3" width="7.1" height="14.7"/><text class="q qr" transform="matrix(0,-1,1,0,311.9,1251.7)">BP_R018_ADI3</text>
<rect class="r Hr" x="329.5" y="1203.3" width="7.5" height="14"/><text class="q qr" transform="matrix(0,-1,1,0,328,1210.3)">BP_R108_ADI2</text>
<rect class="r Er" x="346.9" y="1250.7" width="7.1" height="8.3"/><text class="q qr" transform="matrix(0,-1,1,0,345.4,1254.9)">EE_Field_ADI3_19_DI</text>
<rect class="r Er" x="363" y="1250.7" width="7.5" height="8.3"/><text class="q qr" transform="matrix(0,-1,1,0,361.5,1254.9)">EE_Field_ADI2_19_DI</text>
</g>

<g id="qtl-LGVII">
<rect class="nb Eb" x="825" y="736.7" width="6.8" height="39.3"/><text class="q qb" transform="matrix(0,-1,1,0,823.5,756.3)">EE_Field_FLO2_19_DI</text>
<rect class="nb Xb" x="791.6" y="863.3" width="6.7" height="11.7"/><text class="q qb" transform="matrix(0,-1,1,0,790.1,869.2)">B552_PLM05_HT</text>
<rect class="nb Hb" x="808" y="938.3" width="7" height="22.4"/><text class="q qb" transform="matrix(0,-1,1,0,806.5,949.5)">BP_RE08_fFLO</text>
<rect class="nb Eb" x="825" y="929.3" width="6.8" height="56.7"/><text class="q qb" transform="matrix(0,-1,1,0,823.5,957.7)">EE_Field_FLO2_19_DI</text>
<rect class="nb Vb" x="797" y="984.3" width="2" height="3"/><text class="q qb" transform="matrix(0,-1,1,0,795.5,985.8)">DSP9_MN02_Dead</text>
<rect class="nb Hb" x="692" y="1051" width="8" height="10.7"/><text class="q qb" transform="matrix(0,-1,1,0,690.5,1056.3)">BP_RB08_fFLO</text>
<rect class="nb Hb" x="709" y="1053.3" width="6.7" height="8.4"/><text class="q qb" transform="matrix(0,-1,1,0,707.5,1057.5)">BP_RE08_dFLO</text>
<rect class="nb Hb" x="725.5" y="1048.3" width="7.2" height="31"/><text class="q qb" transform="matrix(0,-1,1,0,724,1063.8)">BP_DI07_HFLO</text>
<rect class="nb Hb" x="742.5" y="1053.3" width="6.7" height="8.4"/><text class="q qb" transform="matrix(0,-1,1,0,741,1057.5)">BP_DI08_FLO</text>
<rect class="nb Hb" x="759" y="1053.3" width="6.7" height="8.4"/><text class="q qb" transform="matrix(0,-1,1,0,757.5,1057.5)">BP_DI07_FLO</text>
<rect class="nb Hb" x="775" y="1053.3" width="6.8" height="8.4"/><text class="q qb" transform="matrix(0,-1,1,0,773.5,1057.5)">BP_DI06_FLO</text>
<rect class="nb Hb" x="791.6" y="1043.3" width="7.6" height="15"/><text class="q qb" transform="matrix(0,-1,1,0,790.1,1050.8)">BP_R108_DW</text>
<rect class="gr Hg" x="841.6" y="1018.3" width="6.7" height="20.7"/><text class="q qg" transform="matrix(0,-1,1,0,840.1,1028.7)">BP_R106_RRI</text>
<rect class="gr Hg" x="858.6" y="1002.7" width="5.8" height="29"/><text class="q qg" transform="matrix(0,-1,1,0,857.1,1017.2)">BP_R807_RRI</text>
<rect class="gr Hg" x="875" y="1003.3" width="6" height="21.7"/><text class="q qg" transform="matrix(0,-1,1,0,873.5,1014.2)">BP_DI07_RRI</text>
<rect class="gr Hg" x="892" y="994.3" width="5.4" height="10.7"/><text class="q qg" transform="matrix(0,-1,1,0,890.5,999.7)">BP_R108_RRI</text>
<rect class="gr Vg" x="907.7" y="972.7" width="6.7" height="32.3"/><text class="q qg" transform="matrix(0,-1,1,0,906.2,988.8)">DSP9_RB02_RRI</text>
<rect class="gr Vg" x="924.6" y="985" width="6.4" height="18.3"/><text class="q qg" transform="matrix(0,-1,1,0,923.1,994.2)">DSP9_RB03_RRI</text>
<rect class="kk Vk" x="941" y="1027.7" width="6" height="22.3"/><text class="q qk" transform="matrix(0,-1,1,0,939.5,1038.8)">DSP9_Ae87.6</text>
<rect class="kk Vk" x="957.7" y="1004.3" width="5.8" height="39"/><text class="q qk" transform="matrix(0,-1,1,0,956.2,1023.8)">DSP9_Ae109.2</text>
<rect class="kk Vk" x="973.8" y="1002.7" width="6.6" height="20.6"/><text class="q qk" transform="matrix(0,-1,1,0,972.3,1013)">DSP9_Ae106.4</text>
<rect class="kk Vk" x="991" y="1004.3" width="6" height="19.7"/><text class="q qk" transform="matrix(0,-1,1,0,989.5,1014.2)">DSP9_Ae78.9</text>
<rect class="kk Vk" x="1007" y="972.7" width="6.5" height="30.6"/><text class="q qk" transform="matrix(0,-1,1,0,1005.5,988)">DSP9_Ae85.2</text>
<rect class="kk Vk" x="1023.8" y="989.3" width="6.2" height="13.4"/><text class="q qk" transform="matrix(0,-1,1,0,1022.3,996)">DSP9_RB84</text>
<rect class="kk Hk" x="1040" y="986" width="6" height="5.7"/><text class="q qk" transform="matrix(0,-1,1,0,1038.5,988.9)">BP_RB84</text>
<rect class="r Hr" x="1056" y="985" width="7" height="6.7"/><text class="q qr" transform="matrix(0,-1,1,0,1054.5,988.4)">BP_DI08_ADI2</text>
<rect class="r Hr" x="1072.9" y="978.3" width="6.6" height="7.7"/><text class="q qr" transform="matrix(0,-1,1,0,1071.4,982.2)">BP_LS08_ADI2</text>
<rect class="r Hr" x="1089.8" y="974" width="6.2" height="8.7"/><text class="q qr" transform="matrix(0,-1,1,0,1088.3,978.4)">BP_LS07_ADI2</text>
<rect class="r Vr" x="1106.3" y="1004.3" width="5.7" height="20"/><text class="q qr" transform="matrix(0,-1,1,0,1104.8,1014.3)">DSP9_TR03_ADI</text>
<rect class="r Vr" x="1122" y="1002.7" width="6.7" height="21.3"/><text class="q qr" transform="matrix(0,-1,1,0,1120.5,1013.4)">DSP9_MN01_ADI1</text>
<rect class="r Vr" x="1139" y="986" width="6" height="16.7"/><text class="q qr" transform="matrix(0,-1,1,0,1137.5,994.4)">DSP9_MN00_ADI1</text>
<rect class="r Vr" x="1155.4" y="986" width="6.6" height="12.3"/><text class="q qr" transform="matrix(0,-1,1,0,1153.9,992.2)">DSP9_WA03_ADI2</text>
<rect class="r Vr" x="1172" y="981" width="6.7" height="21.7"/><text class="q qr" transform="matrix(0,-1,1,0,1170.5,991.9)">DSP9_DI03_ADI2</text>
<rect class="r Vr" x="1189" y="989.3" width="6.6" height="13.4"/><text class="q qr" transform="matrix(0,-1,1,0,1187.5,996)">DSP9_WA03_ADI1</text>
<rect class="r Vr" x="1205.4" y="986" width="6.6" height="32.3"/><text class="q qr" transform="matrix(0,-1,1,0,1203.9,1002.2)">DSP9_DI03_ADI1</text>
<rect class="r Vr" x="1221.5" y="986" width="6.5" height="16.7"/><text class="q qr" transform="matrix(0,-1,1,0,1220,994.4)">DSP9_MN00_ADI1</text>
<rect class="r Vr" x="1238" y="981" width="6.7" height="21.7"/><text class="q qr" transform="matrix(0,-1,1,0,1236.5,991.9)">DSP9_MN03_ADI3</text>
<rect class="r Vr" x="1254.5" y="981" width="6.5" height="21.7"/><text class="q qr" transform="matrix(0,-1,1,0,1253,991.9)">DSP9_RB03_ADI2</text>
<rect class="r Vr" x="1271.5" y="985" width="4.5" height="1.7"/><text class="q qr" transform="matrix(0,-1,1,0,1270,985.9)">DSP9_WA00_ADI</text>
<rect class="r Vr" x="1288" y="986.7" width="6.7" height="16"/><text class="q qr" transform="matrix(0,-1,1,0,1286.5,994.7)">DSP9_MN02_ADI1</text>
<rect class="r Vr" x="1304" y="986.7" width="6" height="16"/><text class="q qr" transform="matrix(0,-1,1,0,1302.5,994.7)">DSP9_MN02_ADI1</text>
<rect class="r Vr" x="1321.5" y="972.7" width="5.8" height="32.3"/><text class="q qr" transform="matrix(0,-1,1,0,1320,988.9)">DSP9_DI02_ADI1</text>
<rect class="r Hr" x="1072.9" y="1051" width="6.6" height="10.7"/><text class="q qr" transform="matrix(0,-1,1,0,1071.4,1056.4)">BP_LS08_ADI2</text>
<rect class="r Hr" x="1089.8" y="1051" width="6.2" height="10.7"/><text class="q qr" transform="matrix(0,-1,1,0,1088.3,1056.4)">BP_DI08_ADI2</text>
<rect class="r Hr" x="1122" y="1053.3" width="6.7" height="20"/><text class="q qr" transform="matrix(0,-1,1,0,1120.5,1063.3)">BP_DI06_ADI1</text>
<rect class="r Hr" x="1139" y="1051" width="6" height="10.7"/><text class="q qr" transform="matrix(0,-1,1,0,1137.5,1056.4)">BP_DI07_ADI2</text>
<rect class="r Hr" x="1155.4" y="1045" width="6.6" height="16.7"/><text class="q qr" transform="matrix(0,-1,1,0,1153.9,1053.4)">BP_ATH06_ADI</text>
<rect class="r Hr" x="1172" y="1053.3" width="6.7" height="8.4"/><text class="q qr" transform="matrix(0,-1,1,0,1170.5,1057.5)">BP_DI06_ADI</text>
<rect class="r Hr" x="1189" y="1051" width="6.6" height="10.7"/><text class="q qr" transform="matrix(0,-1,1,0,1187.5,1056.4)">BP_DI07_ADI1</text>
<rect class="r Hr" x="1205.4" y="1051" width="6.6" height="10.7"/><text class="q qr" transform="matrix(0,-1,1,0,1203.9,1056.4)">BP_LS07_ADI2</text>
<rect class="r Hr" x="1221.5" y="1051" width="6.5" height="10.7"/><text class="q qr" transform="matrix(0,-1,1,0,1220,1056.4)">BP_R106_ADI</text>
<rect class="r Hr" x="1238" y="1045" width="6.7" height="16.7"/><text class="q qr" transform="matrix(0,-1,1,0,1236.5,1053.4)">BP_R08_ADI1</text>
<rect class="r Hr" x="1254.5" y="1043.3" width="6.5" height="18.4"/><text class="q qr" transform="matrix(0,-1,1,0,1253,1052.5)">BP_R018_ADI3</text>
<rect class="r Hr" x="1271.5" y="1045" width="6.5" height="28.3"/><text class="q qr" transform="matrix(0,-1,1,0,1270,1059.2)">BP_R108_ADI2</text>
<rect class="r Xr" x="1288" y="1035" width="6.7" height="15"/><text class="q qr" transform="matrix(0,-1,1,0,1286.5,1042.5)">B552_R05_ADI1</text>
<rect class="gr Xg" x="1304" y="1035" width="6" height="18.3"/><text class="q qg" transform="matrix(0,-1,1,0,1302.5,1044.2)">B552_R04_RRI</text>
<rect class="gr Xg" x="1321.5" y="1033.3" width="5.8" height="10"/><text class="q qg" transform="matrix(0,-1,1,0,1320,1038.3)">B552_DI04_RRI</text>
<rect class="gr Eg" x="1337.6" y="1000" width="6.4" height="63.3"/><text class="q qg" transform="matrix(0,-1,1,0,1336.1,1031.7)">EE_Field_RRI3_19_RI</text>
<rect class="r Xr" x="1321.5" y="855" width="5.8" height="21"/><text class="q qr" transform="matrix(0,-1,1,0,1320,865.5)">B552_RI04_ADI1</text>
<rect class="r Xr" x="1321.5" y="917.7" width="5.8" height="19"/><text class="q qr" transform="matrix(0,-1,1,0,1320,927.2)">B552_DI04_ADI2</text>
<rect class="r Er" x="1337.6" y="924" width="6.4" height="12.7"/><text class="q qr" transform="matrix(0,-1,1,0,1336.1,930.4)">EE_Field_ADI3_19_DI</text>
<rect class="r Er" x="1354" y="929.3" width="6.8" height="13.4"/><text class="q qr" transform="matrix(0,-1,1,0,1352.5,936)">EE_Field_ADI2_19_DI</text>
<rect class="kk Ek" x="1354" y="986" width="6.8" height="24"/><text class="q qk" transform="matrix(0,-1,1,0,1352.5,998)">EE_CC_RR8_16_Ae109</text>
<rect class="kk Ek" x="1372.5" y="985" width="1.5" height="2"/><text class="q qk" transform="matrix(0,-1,1,0,1370,984)">EE_CC_RR8_19_RB84</text>
</g>

<g id="legend">
<text class="lg lb u" x="1911.5" y="563" text-anchor="middle" style="font-size:19px">Légendes</text>
<rect class="bx" x="1672.3" y="572.3" width="468" height="227" style="stroke-width:2"/>
<text class="lg lb u" x="1911" y="599.3" text-anchor="middle">Caractère associé au marqueur</text>
<rect class="bx" x="1684.3" y="614" width="270" height="106"/>
<text class="lg u" x="1699" y="630">Résistance à <tspan font-style="italic">Aphanomyces euteiches</tspan></text>
<use href="#oR" transform="translate(1701,651) scale(1.3)"/><text class="lg" x="1718" y="655">Field ADI</text>
<use href="#tR" transform="translate(1701,678) scale(1.3)"/><text class="lg" x="1719" y="681">Field ADI All</text>
<use href="#gF" transform="translate(1702,705.7) scale(1.2)"/><text class="lg" x="1720" y="709">Field RRI</text>
<use href="#gT" transform="translate(1842,651) scale(1.2)"/><text class="lg" x="1859" y="655">Field RRI All</text>
<use href="#xK" transform="translate(1842.3,677) scale(1.1)"/><text class="lg" x="1860" y="681">CC RRI Ae109</text>
<use href="#hK" transform="translate(1842.3,704) scale(1.1)"/><text class="lg" x="1860" y="708">CC RRI RB84</text>
<rect class="bx" x="1960" y="628.3" width="169.3" height="79.4"/>
<text class="lg u" x="1974.3" y="644">Floraison et morphologie</text>
<use href="#oB" transform="translate(1982.7,663.3) scale(1.3)"/><text class="lg" x="2001.7" y="667.3">FLO1</text>
<use href="#hB" transform="translate(2045.7,663.3) scale(1.1)"/><text class="lg" x="2065.7" y="667.3">RIPE</text>
<use href="#bF" transform="translate(1982.7,686.7) scale(1.2)"/><text class="lg" x="2001.7" y="690.7">FLO2</text>
<use href="#xB" transform="translate(2045.7,686.3) scale(1.1)"/><text class="lg" x="2064.3" y="689.5">HT</text>
<rect class="bx" x="1685.7" y="725" width="443.6" height="29"/>
<text class="lg u" x="1689.3" y="742.7">Pvalue associée aux variables:</text>
<use href="#st" x="1856" y="741"/>
<text class="lg" x="1863.3" y="743">P &gt; 1.10<tspan dy="-4.5" style="font-size:8px">-6</tspan></text>
<use href="#st" x="1921.7" y="741"/><use href="#st" x="1932.7" y="741"/>
<text class="lg" x="1940" y="743">1.10<tspan dy="-4.5" style="font-size:8px">-12</tspan><tspan dy="4.5"> &lt; P &lt; 1.10</tspan><tspan dy="-4.5" style="font-size:8px">-6</tspan></text>
<use href="#st" x="2043.3" y="741"/><use href="#st" x="2053.3" y="741"/><use href="#st" x="2063.3" y="741"/>
<text class="lg" x="2071.7" y="743">P &lt; 1.10<tspan dy="-4.5" style="font-size:8px">-12</tspan></text>
<rect class="bx" x="1684.3" y="762.3" width="444" height="30"/>
<text class="lg u" x="1688.3" y="780.7">Etendue du déséquilibre de liaison :</text>
<rect x="1884" y="776" width="31" height="7.3" fill="#ffb6b9"/>
<text class="lg" x="1923.3" y="774.3">Résistance à</text>
<text class="lg" x="1923.3" y="789" font-style="italic">A. euteiches</text>
<rect x="2007.3" y="775.3" width="31.7" height="7.4" fill="#1e8fff"/>
<text class="lg" x="2047.3" y="774.3">Floraison et</text>
<text class="lg" x="2047.3" y="789">morphologie</text>
<rect class="bx" x="1672.3" y="806" width="468" height="230.7" style="stroke-width:2"/>
<text class="lg lb u" x="1905.3" y="824" text-anchor="middle">Indice de couleur des QTL issus de différentes populations en ségrégation</text>
<text class="lg" x="1876" y="860" text-anchor="middle">Field ADI</text>
<text class="lg" x="1945" y="859.5" text-anchor="middle">Field RRI</text>
<text class="lg" x="2010" y="858.5" text-anchor="middle">CC RRI</text>
<text class="lg" x="2084.7" y="857.7" text-anchor="middle">FLO / RIPE / HT</text>
<text class="lg" x="1682.3" y="886.7">QTL BAv Eden x E11:</text>
<text class="lg" x="1682.3" y="917.3">QTL RILs Baccara x 552 :</text>
<text class="lg" x="1682.3" y="946.7">QTL RILs Baccara x PI180693 :</text>
<text class="lg" x="1683" y="976.7">QTL RILs DSP x 90-2131 :</text>
<text class="lg" x="1684.3" y="1006">QTL RILs Puget x 90-2079 :</text>
<rect x="1859.3" y="879.3" width="31.5" height="8" fill="#f00"/><rect x="1930" y="879.3" width="31.5" height="8" fill="#70ad47"/><rect x="1998.3" y="879.3" width="31.5" height="8" fill="#000"/><rect x="2070" y="879.3" width="31.5" height="8" fill="#2f5597"/>
<rect class="r Xr" x="1859.3" y="909" width="31.5" height="7.7"/><rect class="Xg" x="1930" y="909" width="31.5" height="7.7" stroke="#70ad47" stroke-width="1.1"/><rect class="kk Xk" x="1998.3" y="909" width="31.5" height="7.7"/><rect class="Xb" x="2070" y="909" width="31.5" height="7.7" stroke="#2f5597" stroke-width="1.1"/>
<rect class="r Hr" x="1859.3" y="940" width="31.5" height="7.7"/><rect class="Hg" x="1930" y="940" width="31.5" height="7.7" stroke="#70ad47" stroke-width="1.1"/><rect class="kk Hk" x="1998.3" y="940" width="31.5" height="7.7"/><rect class="Hb" x="2070" y="940" width="31.5" height="7.7" stroke="#2f5597" stroke-width="1.1"/>
<rect class="r Vr" x="1859.3" y="968" width="31.5" height="8.7"/><rect class="Vg" x="1930" y="968" width="31.5" height="8.7" stroke="#70ad47" stroke-width="1.1"/><rect class="kk Vk" x="1998.3" y="968" width="31.5" height="8.7"/><rect class="Vb" x="2070" y="968" width="31.5" height="8.7" stroke="#2f5597" stroke-width="1.1"/>
<rect class="r Dr" x="1859.3" y="997.7" width="31.5" height="8"/><rect class="Dg" x="1930" y="997.7" width="31.5" height="8" stroke="#70ad47" stroke-width="1.1"/><rect class="kk Dk" x="1998.3" y="997.7" width="31.5" height="8"/><rect class="Db" x="2070" y="997.7" width="31.5" height="8" stroke="#2f5597" stroke-width="1.1"/>
</g>
</svg>
